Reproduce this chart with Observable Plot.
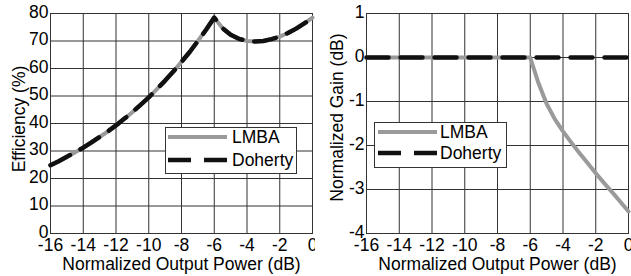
<!DOCTYPE html>
<html><head><meta charset="utf-8">
<script src="https://cdn.jsdelivr.net/npm/d3@7"></script>
<script src="https://cdn.jsdelivr.net/npm/@observablehq/plot@0.6"></script>
<style>
body{margin:0;background:#fff;}
#wrap{position:relative;width:631px;height:276px;display:flex;overflow:hidden;font-family:Arial,"Liberation Sans",sans-serif;}
#wrap svg{overflow:visible;}
#wrap text{font-family:Arial,"Liberation Sans",sans-serif;}
.legend{position:absolute;}
</style></head>
<body><div id="wrap"></div>
<script>
// ---- data ----
const xTicks = [-16,-14,-12,-10,-8,-6,-4,-2,0];
const effTicks = [0,10,20,30,40,50,60,70,80];
const gainTicks = [-4,-3,-2,-1,0,1];
const seriesNames = ["LMBA","Doherty"];
const xTitle = "Normalized Output Power (dB)";
const effTitle = "Efficiency (%)";
const gainTitle = "Normalized Gain (dB)";

const effPower = [-16,-15.5,-15,-14.5,-14,-13.5,-13,-12.5,-12,-11.5,-11,-10.5,-10,-9.5,-9,-8.5,-8,-7.5,-7,-6.5,-6,-5.5,-5,-4.5,-4,-3.5,-3,-2.5,-2,-1.5,-1,-0.5,0];
const effLMBA    = [24.8,26.3,27.9,29.5,31.2,33.1,35.1,37.1,39.3,41.7,44.1,46.8,49.5,52.5,55.6,58.9,62.4,66.0,70.0,74.1,78.5,74.7,72.3,70.8,70.0,69.8,70.0,70.7,71.6,72.9,74.5,76.4,78.5];
const effDoherty = [24.8,26.3,27.9,29.5,31.2,33.1,35.1,37.1,39.3,41.7,44.1,46.8,49.5,52.5,55.6,58.9,62.4,66.0,70.0,74.1,78.5,74.7,72.3,70.8,70.0,69.8,70.0,70.7,71.6,72.9,74.5,76.4,78.5];

const gainPower = [-16,-6,-5.5,-5,-4.5,-4,-3.5,-3,-2.5,-2,-1.5,-1,-0.5,0];
const gainLMBA    = [0,0,-0.58,-1.05,-1.4,-1.68,-1.93,-2.17,-2.4,-2.63,-2.85,-3.06,-3.28,-3.5];
const gainDoherty = [0,0,0,0,0,0,0,0,0,0,0,0,0,0];

// ---- styles ----
const FONT = "Arial, Liberation Sans, sans-serif";
const FS = 17.5;
const GRAY = "#9a9a9a", BLACK = "#111", GRID = "#333";
const DASH = "22,12";
const fmt = d => String(d);

function panel({yDomain, yTicks, yLabel, xs, a, b, marginLeft, width, yLabelDx, yLabelDy}) {
  const dataA = xs.map((x,i)=>({x, y:a[i]}));
  const dataB = xs.map((x,i)=>({x, y:b[i]}));
  return Plot.plot({
    width, height: 276,
    marginLeft, marginRight: 3, marginTop: 13, marginBottom: 43,
    style: {fontFamily: FONT, fontSize: FS + "px", color: "#000", background: "#fff", overflow: "visible"},
    x: {domain: [-16, 0]},
    y: {domain: yDomain},
    marks: [
      Plot.gridX(xTicks, {stroke: GRID, strokeOpacity: 1, strokeWidth: 1}),
      Plot.gridY(yTicks, {stroke: GRID, strokeOpacity: 1, strokeWidth: 1}),
      Plot.frame({stroke: GRID, strokeWidth: 1}),
      Plot.axisX(xTicks, {tickSize: 0, tickPadding: 5.5, tickFormat: fmt, fontSize: FS, fontFamily: FONT, label: null}),
      Plot.axisY(yTicks, {tickSize: 0, tickPadding: 2, tickFormat: fmt, fontSize: FS, fontFamily: FONT, label: null, dy: -1.5}),
      Plot.text([xTitle], {text: d => d, frameAnchor: "bottom", textAnchor: "middle", lineAnchor: "top", dy: 24, fontSize: FS, fontFamily: FONT, fill: "#000"}),
      Plot.text([yLabel], {text: d => d, frameAnchor: "left", textAnchor: "middle", rotate: -90, lineAnchor: "top", dx: yLabelDx, dy: yLabelDy, fontSize: FS, fontFamily: FONT, fill: "#000"}),
      Plot.line(dataA, {x: "x", y: "y", stroke: GRAY, strokeWidth: 4}),
      Plot.line(dataB, {x: "x", y: "y", stroke: BLACK, strokeWidth: 4.5, strokeDasharray: DASH})
    ]
  });
}

const wrap = document.getElementById("wrap");
wrap.appendChild(panel({yDomain: [0, 80], yTicks: effTicks, yLabel: effTitle,
  xs: effPower, a: effLMBA, b: effDoherty, marginLeft: 50, width: 315, yLabelDx: -38, yLabelDy: -4.5}));
wrap.appendChild(panel({yDomain: [-4, 1], yTicks: gainTicks, yLabel: gainTitle,
  xs: gainPower, a: gainLMBA, b: gainDoherty, marginLeft: 51, width: 316, yLabelDx: -35.5, yLabelDy: -6}));

// ---- legends ----
function legend(left, top, w, h, lineX0, lineX1, textX, rowYs) {
  const svg = d3.create("svg").attr("class", "legend").attr("width", w).attr("height", h)
    .style("left", left + "px").style("top", top + "px")
    .attr("font-family", FONT).attr("font-size", FS);
  svg.append("rect").attr("x", 0.5).attr("y", 0.5).attr("width", w - 1).attr("height", h - 1)
    .attr("fill", "#fff").attr("stroke", GRID);
  seriesNames.forEach((name, i) => {
    svg.append("line").attr("x1", lineX0).attr("x2", lineX1).attr("y1", rowYs[i]).attr("y2", rowYs[i])
      .attr("stroke", i === 0 ? GRAY : BLACK).attr("stroke-width", i === 0 ? 4 : 4.5)
      .attr("stroke-dasharray", i === 0 ? null : "23,13");
    svg.append("text").attr("x", textX).attr("y", rowYs[i]).attr("dy", "0.36em").text(name);
  });
  wrap.appendChild(svg.node());
}
legend(165, 127, 132, 47, 3, 62, 67, [10, 33]);
legend(374, 122, 133, 46, 4, 63, 66, [10, 31]);
</script></body></html>
